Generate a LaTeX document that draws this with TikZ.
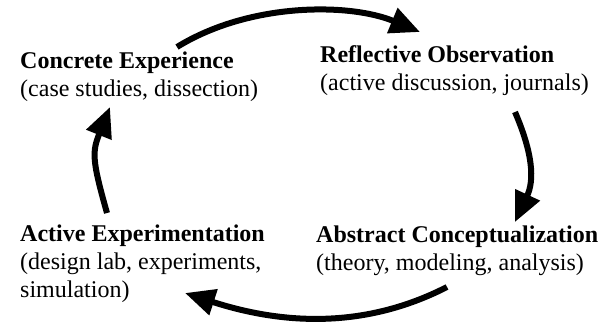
\documentclass[tikz,border=0pt]{standalone}
\usepackage{fontspec}
\setmainfont{Liberation Serif}
\usetikzlibrary{arrows.meta}
\begin{document}
\begin{tikzpicture}[x=1pt,y=1pt,
  stage/.style={anchor=base west, inner sep=0pt, align=left,
    font=\fontsize{24}{28}\selectfont},
  cycle/.style={line width=6pt, -{Triangle[length=30pt,width=26pt]}}]
\useasboundingbox (0,0) rectangle (600,-325);

% the four stages of the learning cycle (placed at the baseline of their last line)
\node[stage] (ce) at (20,-96) {\textbf{Concrete Experience}\\(case studies, dissection)};
\node[stage] (ro) at (320,-90) {\textbf{Reflective Observation}\\(active discussion, journals)};
\node[stage] (ac) at (316,-270) {\textbf{Abstract Conceptualization}\\(theory, modeling, analysis)};
\node[stage] (ae) at (20,-297) {\textbf{Active Experimentation}\\(design lab, experiments,\\simulation)};

% end points of the curved arrows
\coordinate (ce-out) at (177,-47);
\coordinate (ro-in)  at (420,-32);
\coordinate (ro-out) at (515,-112);
\coordinate (ac-in)  at (515,-222);
\coordinate (ac-out) at (447,-287);
\coordinate (ae-in)  at (185,-293);
\coordinate (ae-out) at (107,-213);
\coordinate (ce-in)  at (110,-107);

\draw[cycle] (ce-out) .. controls (250,-2) and (350,-3) .. (ro-in);
\draw[cycle] (ro-out) .. controls (533,-154) and (534.5,-180) .. (ac-in);
\draw[cycle] (ac-out) .. controls (361,-331) and (278,-323) .. (ae-in);
\draw[cycle] (ae-out) .. controls (92,-160) and (92,-152) .. (ce-in);
\end{tikzpicture}
\end{document}
